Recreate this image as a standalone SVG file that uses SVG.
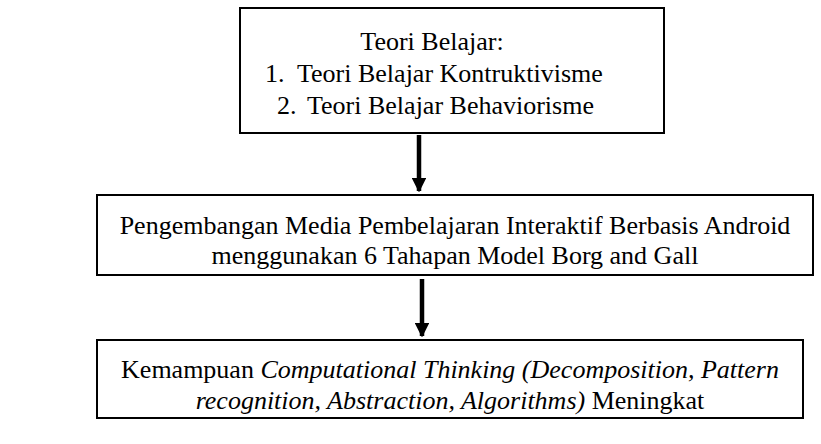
<svg xmlns="http://www.w3.org/2000/svg" width="821" height="444" viewBox="0 0 821 444">
  <style>
    .box { fill: #ffffff; stroke: #000000; stroke-width: 2; }
    text { font-family: 'Liberation Serif', 'Times New Roman', 'DejaVu Serif', serif; font-size: 26px; fill: #000000; }
    .it { font-style: italic; }
    .link { stroke: #000000; stroke-width: 4.5; fill: none; }
  </style>
  <defs>
    <marker id="head" viewBox="0 0 10 10" refX="9" refY="5" markerWidth="3.3" markerHeight="3.3" markerUnits="strokeWidth" orient="auto">
      <path d="M0,0 L10,5 L0,10 Z" fill="#000000"/>
    </marker>
  </defs>
  <rect width="821" height="444" fill="#ffffff"/>

  <g id="teori">
    <rect class="box" x="240" y="8" width="424" height="125"/>
    <text x="432" y="50" text-anchor="middle">Teori Belajar:</text>
    <text x="265" y="82">1.</text>
    <text x="297" y="82">Teori Belajar Kontruktivisme</text>
    <text x="277" y="114">2.</text>
    <text x="307" y="114">Teori Belajar Behaviorisme</text>
  </g>

  <g id="pengembangan">
    <rect class="box" x="97" y="195" width="716" height="80"/>
    <text x="455" y="234" text-anchor="middle">Pengembangan Media Pembelajaran Interaktif Berbasis Android</text>
    <text x="455" y="264" text-anchor="middle">menggunakan 6 Tahapan Model Borg and Gall</text>
  </g>

  <g id="kemampuan">
    <rect class="box" x="97" y="340" width="706" height="78"/>
    <text x="450" y="378" text-anchor="middle">Kemampuan <tspan class="it">Computational Thinking (Decomposition, Pattern</tspan></text>
    <text x="450" y="409" text-anchor="middle"><tspan class="it">recognition, Abstraction, Algorithms)</tspan> Meningkat</text>
  </g>

  <g id="connectors">
    <line class="link" x1="419" y1="135" x2="419" y2="191" marker-end="url(#head)"/>
    <line class="link" x1="422" y1="279" x2="422" y2="336" marker-end="url(#head)"/>
  </g>
</svg>
